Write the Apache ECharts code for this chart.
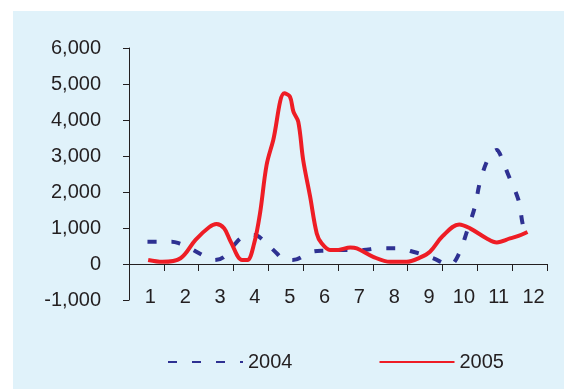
<!DOCTYPE html>
<html>
<head>
<meta charset="utf-8">
<script src="https://cdn.jsdelivr.net/npm/echarts@6/dist/echarts.min.js"></script>
<style>
html,body{margin:0;padding:0;background:#fff;}
#chart{width:564px;height:389px;}
</style>
</head>
<body>
<div id="chart"></div>
<script>
// Category tick labels (months)
const monthLabels = ['1','2','3','4','5','6','7','8','9','10','11','12'];

// 2004 series: position in month units, values
const months2004 = [1.03, 1.40, 1.73, 1.94, 2.17, 2.70, 2.94, 3.23, 3.56, 3.75, 4.04, 4.23, 4.74, 4.98, 5.20, 5.75, 6.13, 6.65, 7.22, 7.66, 8.19, 8.71, 9.19, 9.72, 9.98, 10.20, 10.43, 10.58, 10.84, 11.06, 11.15, 11.39, 11.68, 11.82, 11.93];
const values2004 = [620, 620, 620, 575, 480, 200, 110, 200, 575, 740, 805, 760, 300, 110, 110, 340, 370, 390, 390, 435, 435, 325, 175, -20, 300, 900, 1590, 2290, 2980, 3170, 3055, 2470, 1780, 1040, 900];

// 2005 series
const months2005 = [1.05, 1.46, 1.98, 2.41, 2.80, 3.01, 3.23, 3.42, 3.75, 3.90, 4.09, 4.26, 4.45, 4.64, 4.96, 5.12, 5.22, 5.36, 5.50, 5.70, 5.89, 6.03, 6.27, 6.51, 6.85, 7.04, 7.51, 8.00, 8.47, 8.85, 9.14, 9.50, 9.98, 10.29, 10.77, 11.06, 11.44, 11.68, 11.94];
const values2005 = [110, 60, 160, 670, 1020, 1110, 990, 620, 110, 110, 560, 1400, 2750, 3440, 4740, 4650, 4230, 3950, 2890, 1870, 850, 575, 390, 390, 460, 435, 200, 60, 60, 175, 340, 770, 1100, 990, 710, 600, 710, 780, 890];

const seriesNames = ['2004', '2005'];

const pair = (xs, ys) => xs.map((x, i) => [x, ys[i]]);
const textColor = '#231F20';
const font = 'Liberation Sans, Arial, sans-serif';

const chart = echarts.init(document.getElementById('chart'));
chart.setOption({
  backgroundColor: '#ffffff',
  animation: false,
  graphic: [{
    type: 'rect', z: -10, silent: true,
    shape: {x: 13, y: 11, width: 551, height: 378},
    style: {fill: '#E0F2FA'}
  }],
  grid: {left: 129, right: 17, top: 48, bottom: 89, containLabel: false},
  legend: {
    data: seriesNames,
    left: 162, top: 347,
    itemWidth: 75, itemHeight: 4, itemGap: 86,
    itemStyle: {opacity: 0},
    textStyle: {color: textColor, fontSize: 20, fontFamily: font, lineHeight: 20}
  },
  xAxis: [{
    type: 'category',
    data: monthLabels,
    boundaryGap: true,
    axisLine: {onZero: true, lineStyle: {color: textColor, width: 1}},
    axisTick: {show: true, length: 7, inside: false, lineStyle: {color: textColor}},
    axisLabel: {color: textColor, fontSize: 20, fontFamily: font, margin: -13, padding: [0, 0, 0, 8]},
    splitLine: {show: false}
  }, {
    type: 'value',
    min: 0.5, max: 12.5,
    show: false,
    position: 'bottom'
  }],
  yAxis: {
    type: 'value',
    min: -1000, max: 6000, interval: 1000,
    axisLine: {show: true, lineStyle: {color: textColor, width: 1}},
    axisTick: {show: true, length: 6, lineStyle: {color: textColor}},
    axisLabel: {
      color: textColor, fontSize: 20, fontFamily: font, margin: 28,
      formatter: v => v.toLocaleString('en-US')
    },
    splitLine: {show: false}
  },
  series: [{
    name: seriesNames[0],
    type: 'line',
    xAxisIndex: 1,
    data: pair(months2004, values2004),
    smooth: 0.35,
    symbol: 'none',
    lineStyle: {color: '#2E3192', width: 4, type: [9, 15], cap: 'butt'},
    itemStyle: {color: '#2E3192'},
    z: 2
  }, {
    name: seriesNames[1],
    type: 'line',
    xAxisIndex: 1,
    data: pair(months2005, values2005),
    smooth: 0.35,
    symbol: 'none',
    lineStyle: {color: '#EE1D25', width: 4},
    itemStyle: {color: '#EE1D25'},
    z: 3
  }]
});
</script>
</body>
</html>
